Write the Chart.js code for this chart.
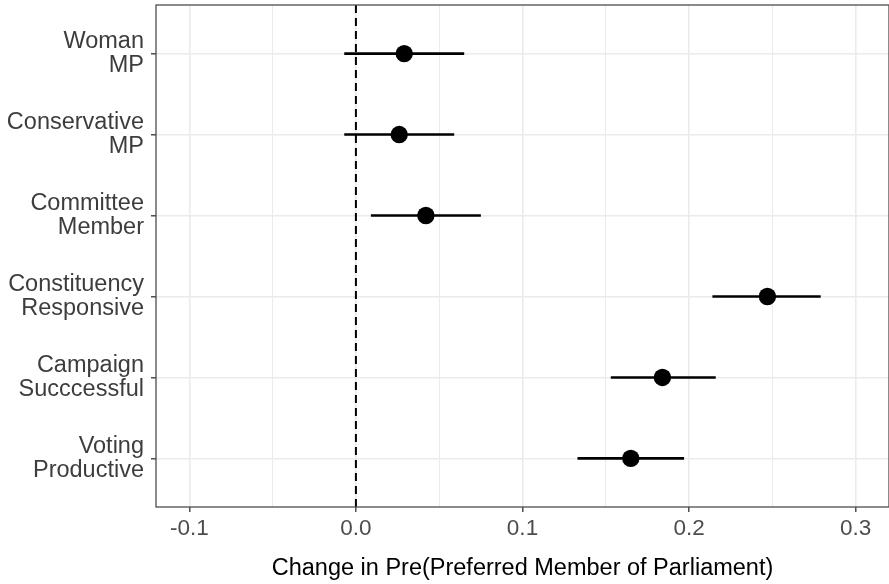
<!DOCTYPE html>
<html>
<head>
<meta charset="utf-8">
<script src="https://cdn.jsdelivr.net/npm/chart.js@4"></script>
<style>
  html, body { margin: 0; padding: 0; background: #fff; }
  #wrap { width: 889px; height: 584px; }
</style>
</head>
<body>
<div id="wrap"><canvas id="coefChart"></canvas></div>
<script>
var categories = [['Woman', 'MP'], ['Conservative', 'MP'], ['Committee', 'Member'], ['Constituency', 'Responsive'], ['Campaign', 'Succcessful'], ['Voting', 'Productive']];
var estimates = [0.029, 0.026, 0.042, 0.247, 0.184, 0.165];
var lower = [-0.007, -0.007, 0.009, 0.214, 0.153, 0.133];
var upper = [0.065, 0.059, 0.075, 0.279, 0.216, 0.197];
var majorTicks = [-0.1, 0, 0.1, 0.2, 0.3];
var majorLabels = ['-0.1', '0.0', '0.1', '0.2', '0.3'];
var minorTicks = [-0.05, 0.05, 0.15, 0.25];

document.addEventListener('DOMContentLoaded', function () {
    var font = "'Liberation Sans', Arial, sans-serif";

    function majorIndex(v) {
        for (var i = 0; i < majorTicks.length; i++) {
            if (Math.abs(majorTicks[i] - v) < 1e-9) return i;
        }
        return -1;
    }

    // frame round the panel, like theme_bw
    var panelBorder = {
        id: 'panelBorder',
        afterDraw: function (chart) {
            var a = chart.chartArea, c = chart.ctx;
            c.save();
            c.strokeStyle = '#4d4d4d';
            c.lineWidth = 1.3;
            c.strokeRect(a.left, a.top, a.right - a.left, a.bottom - a.top);
            c.restore();
        }
    };

    var datasets = [{
        label: 'Estimate',
        data: estimates.map(function (v, i) { return { x: v, y: i }; }),
        pointRadius: 8.7,
        pointHoverRadius: 8.7,
        backgroundColor: '#000',
        borderWidth: 0
    }];
    categories.forEach(function (c, i) {
        datasets.push({
            label: 'CI ' + i,
            data: [{ x: lower[i], y: i }, { x: upper[i], y: i }],
            showLine: true,
            borderColor: '#000',
            borderWidth: 2.6,
            pointRadius: 0
        });
    });
    datasets.push({
        label: 'zero',
        data: [{ x: 0, y: -0.6 }, { x: 0, y: categories.length - 0.4 }],
        showLine: true,
        borderColor: '#000',
        borderWidth: 2,
        borderDash: [8, 5],
        pointRadius: 0
    });

    var ctx = document.getElementById('coefChart').getContext('2d');
    new Chart(ctx, {
        type: 'scatter',
        data: { datasets: datasets },
        plugins: [panelBorder],
        options: {
            responsive: true,
            maintainAspectRatio: false,
            animation: false,
            layout: { autoPadding: false, padding: { top: 5, right: 0, bottom: 0, left: 0 } },
            plugins: {
                legend: { display: false },
                tooltip: { enabled: false }
            },
            scales: {
                x: {
                    type: 'linear',
                    min: -0.12,
                    max: 0.32,
                    afterBuildTicks: function (scale) {
                        scale.ticks = majorTicks.concat(minorTicks).sort(function (a, b) { return a - b; })
                            .map(function (v) { return { value: v }; });
                    },
                    afterFit: function (scale) {
                        scale.height = 77;
                        scale.paddingLeft = 0;
                        scale.paddingRight = 0;
                    },
                    border: { display: false },
                    grid: {
                        color: '#ebebeb',
                        lineWidth: function (c) { return majorIndex(c.tick.value) >= 0 ? 1.6 : 1; },
                        tickLength: 5,
                        tickWidth: 1.3,
                        tickColor: function (c) { return majorIndex(c.tick.value) >= 0 ? '#333' : 'rgba(0,0,0,0)'; }
                    },
                    ticks: {
                        autoSkip: false,
                        maxRotation: 0,
                        padding: 3.5,
                        color: '#4d4d4d',
                        font: { family: font, size: 22.5, lineHeight: 1.2 },
                        callback: function (v) {
                            var k = majorIndex(v);
                            return k >= 0 ? majorLabels[k] : '';
                        }
                    },
                    title: {
                        display: true,
                        text: 'Change in Pre(Preferred Member of Parliament)',
                        color: '#000',
                        font: { family: font, size: 23.5, lineHeight: 1.2 },
                        padding: { top: 0, bottom: 1 }
                    }
                },
                y: {
                    type: 'linear',
                    reverse: true,
                    min: -0.6,
                    max: categories.length - 0.4,
                    afterBuildTicks: function (scale) {
                        scale.ticks = categories.map(function (c, i) { return { value: i }; });
                    },
                    afterFit: function (scale) {
                        scale.width = 156;
                        scale.paddingTop = 0;
                        scale.paddingBottom = 0;
                    },
                    border: { display: false },
                    grid: {
                        color: '#ebebeb',
                        lineWidth: 1.6,
                        tickLength: 5,
                        tickWidth: 1.3,
                        tickColor: '#333'
                    },
                    ticks: {
                        autoSkip: false,
                        padding: 7,
                        color: '#3d3d3d',
                        font: { family: font, size: 23.5, lineHeight: 1.0 },
                        callback: function (v) { return categories[v]; }
                    }
                }
            }
        }
    });
});
</script>
</body>
</html>
